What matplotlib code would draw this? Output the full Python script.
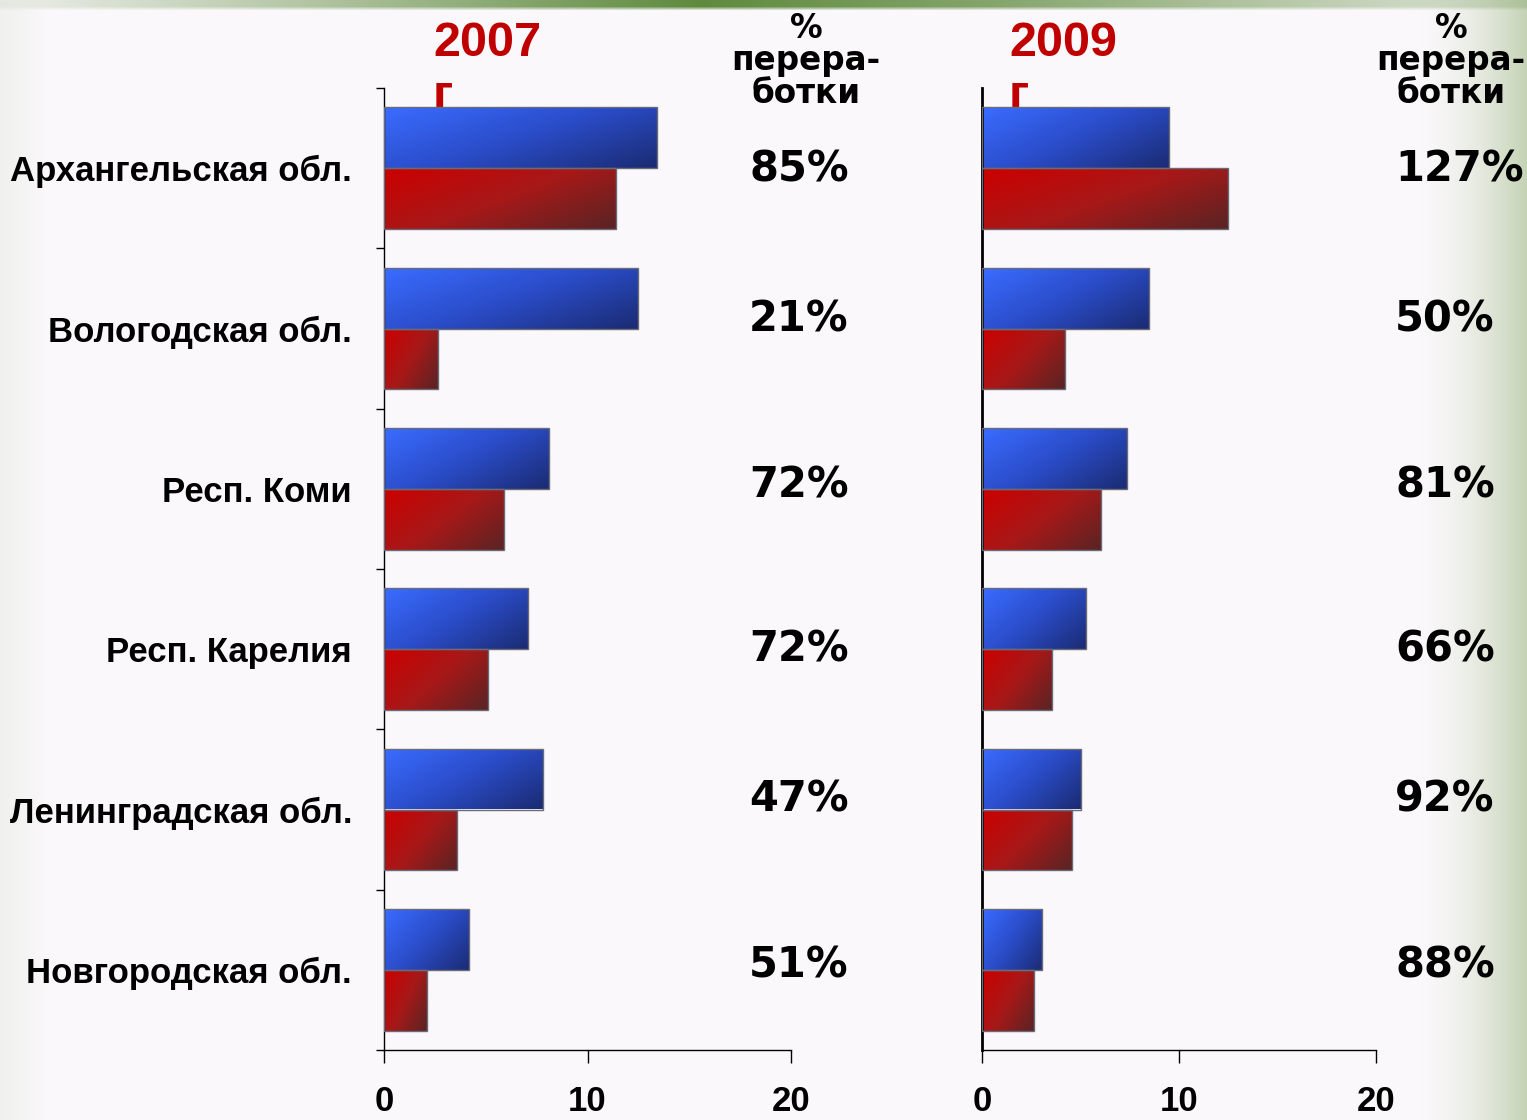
import matplotlib
matplotlib.use('Agg')
import matplotlib.pyplot as plt
from matplotlib.colors import LinearSegmentedColormap
import numpy as np

# Data

regions = ['Архангельская обл.', 'Вологодская обл.', 'Респ. Коми',
           'Респ. Карелия', 'Ленинградская обл.', 'Новгородская обл.']
blue_2007 = [13.4, 12.5, 8.1, 7.1, 7.8, 4.2]
red_2007 = [11.4, 2.65, 5.9, 5.1, 3.6, 2.1]
blue_2009 = [9.5, 8.5, 7.35, 5.3, 5.0, 3.05]
red_2009 = [12.5, 4.2, 6.05, 3.55, 4.55, 2.65]
pct_2007 = ['85%', '21%', '72%', '72%', '47%', '51%']
pct_2009 = ['127%', '50%', '81%', '66%', '92%', '88%']
xticks = [0, 10, 20]

# Layout (pixels of the 1527x1120 picture)

W, H = 1527, 1120
pct_y = [170, 320, 485, 650, 800, 965]

def fx(px):
	return px / W

def fy(py):
	return 1 - py / H

# Figure and background

fig = plt.figure(figsize=(W / 100, H / 100), dpi=100)

base = np.array([250, 248, 250]) / 255.
bg = np.ones((H, W, 3)) * base
xs = np.arange(W)
# right edge greenish fade
t = np.clip((xs - 1420) / 107., 0, 1) ** 1.6
bg = bg * (1 - t[None, :, None]) + (np.array([196, 210, 180]) / 255.)[None, None, :] * t[None, :, None]
# left edge faint fade
t = np.clip(1 - xs / 45., 0, 1) * 0.5
bg = bg * (1 - t[None, :, None]) + (np.array([230, 233, 226]) / 255.)[None, None, :] * t[None, :, None]
# top green strip
tg = np.interp(xs, [0, 300, 700, 1000, 1400, 1527], [0.08, 0.45, 1.0, 0.75, 0.3, 0.25])
green = np.array([95, 138, 62]) / 255.
for r in range(10):
	fade = 1.0 if r < 7 else (10 - r) / 4.
	tt = tg * fade
	bg[r] = bg[r] * (1 - tt[:, None]) + green[None, :] * tt[:, None]

axbg = fig.add_axes([0, 0, 1, 1], zorder=-5)
axbg.imshow(bg, aspect='auto', extent=(0, 1, 0, 1), interpolation='bilinear')
axbg.axis('off')

# Gradient colour maps

blue_cmap = LinearSegmentedColormap.from_list('b', ['#3A6CFF', '#2A4CC8', '#1B2C74'])
red_cmap = LinearSegmentedColormap.from_list('r', ['#CC0000', '#A81818', '#5A2424'])
u = np.linspace(0, 1, 60)
v = np.linspace(0, 1, 30)
grad = 0.6 * u[None, :] + 0.4 * v[:, None]

def gradBars(ax, ypos, vals, cmap):
	bars = ax.barh(ypos, vals, height=0.38, color='none', edgecolor='#6a6a78',
				lw=1.0, zorder=3)
	for b in bars:
		x0, y0, w, h = b.get_x(), b.get_y(), b.get_width(), b.get_height()
		im = ax.imshow(grad, cmap=cmap, extent=(x0, x0 + w, y0, y0 + h),
					origin='upper', aspect='auto', interpolation='bilinear', zorder=2)
		im.set_clip_path(b)

n = len(regions)
yc = np.arange(n)[::-1]

def makePanel(left, right, blue, red, spine_w, yticks_on):
	ax = fig.add_axes([fx(left), fy(1050), fx(right - left), (1050 - 88) / H])
	ax.set_facecolor('none')
	gradBars(ax, yc + 0.19, blue, blue_cmap)
	gradBars(ax, yc - 0.19, red, red_cmap)
	ax.set_xlim(0, 20)
	ax.set_ylim(-0.5, n - 0.5)
	for s in ['top', 'right']:
		ax.spines[s].set_visible(False)
	ax.spines['left'].set_linewidth(spine_w)
	ax.spines['bottom'].set_linewidth(1.0)
	ax.set_xticks(xticks)
	ax.set_xticklabels([str(x) for x in xticks], fontsize=25, fontweight='bold',
					family='Liberation Sans')
	ax.tick_params(axis='x', length=9, width=1, pad=16)
	if yticks_on:
		ax.set_yticks(np.arange(-0.5, n, 1.0))
		ax.set_yticklabels([])
		ax.tick_params(axis='y', length=6, width=1)
		ax.set_yticks(yc, minor=True)
		ax.set_yticklabels(regions, minor=True, fontsize=25, fontweight='bold',
						family='Liberation Sans')
		ax.tick_params(axis='y', which='minor', length=0, pad=23)
	else:
		ax.set_yticks([])
	return ax

ax1 = makePanel(384, 791, blue_2007, red_2007, 1.0, True)
ax2 = makePanel(982, 1376, blue_2009, red_2009, 2.0, False)

# Year titles (sit behind the bars)

for ax, x, yr in [(ax1, 433, '2007'), (ax2, 1009, '2009')]:
	ax.text(fx(x), fy(21), yr + '\nг', transform=fig.transFigure, ha='left', va='top',
			fontsize=35, fontweight='bold', color='#C00000', family='Liberation Sans',
			linespacing=1.22, zorder=1, clip_on=False)

# Column headers and percentages

for x in [806, 1451]:
	fig.text(fx(x), fy(12), '%\nперера-\nботки', ha='center', va='top', fontsize=23.5,
			fontweight='bold', family='DejaVu Sans', linespacing=0.98)

for i in range(n):
	fig.text(fx(749), fy(pct_y[i]), pct_2007[i], ha='left', va='center', fontsize=30,
			fontweight='bold', family='DejaVu Sans')
	fig.text(fx(1395), fy(pct_y[i]), pct_2009[i], ha='left', va='center', fontsize=30,
			fontweight='bold', family='DejaVu Sans')

plt.savefig('out.png', dpi=100)
